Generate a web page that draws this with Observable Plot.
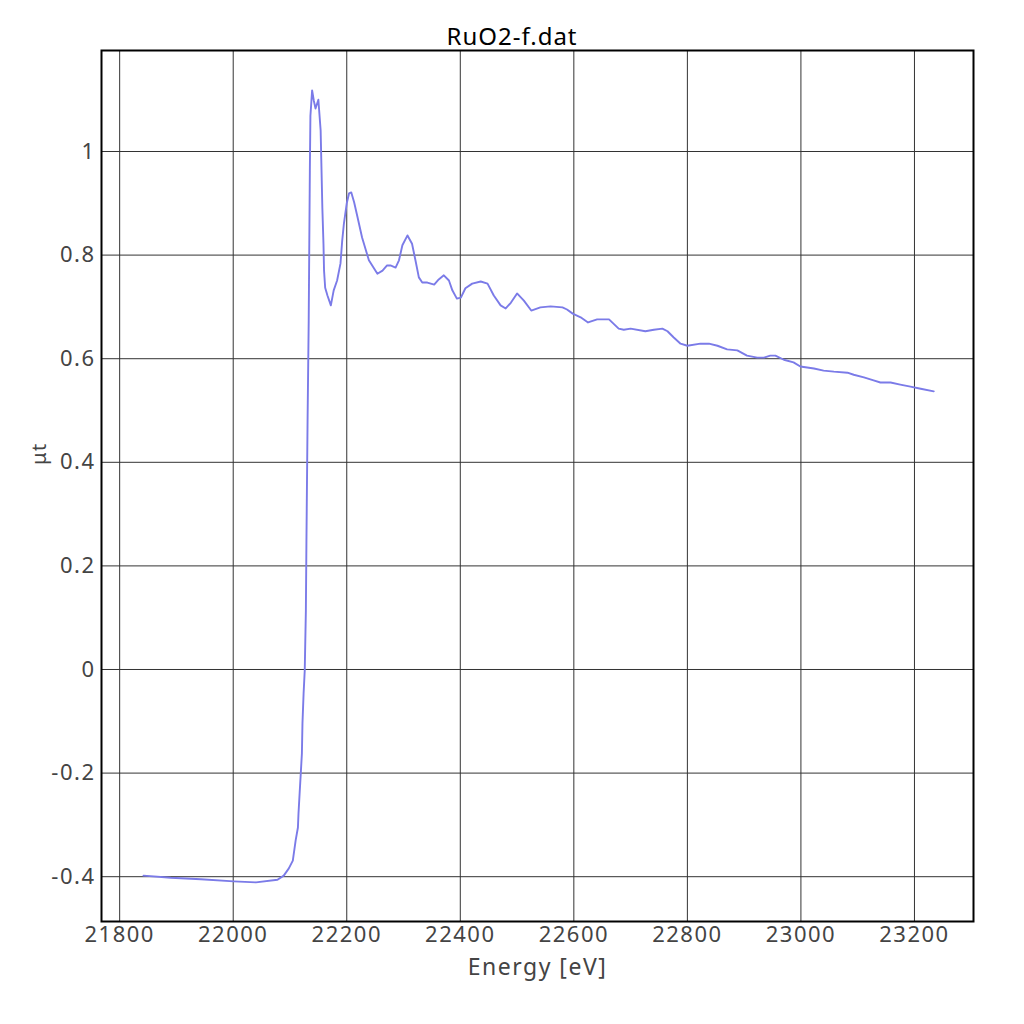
<!DOCTYPE html>
<html>
<head>
<meta charset="utf-8">
<script src="https://cdn.jsdelivr.net/npm/d3@7"></script>
<script src="https://cdn.jsdelivr.net/npm/@observablehq/plot@0.6"></script>
<style>
  body { margin: 0; background: #fff; font-family: "Noto Sans", sans-serif; }
  #title { height: 24px; position: relative; }
  #title span { position: absolute; left: 0; right: 0; top: 24px; line-height: 1; text-align: center; font-size: 24px; letter-spacing: 1px; color: #000; z-index: 1; }
  #chart svg text { letter-spacing: 1.5px; }
</style>
</head>
<body>
<div id="title"><span>RuO2-f.dat</span></div>
<div id="chart"></div>
<script>
// XAS scan: energy [eV] and absorption μt
const energy = [
  21842, 21890, 21943, 22001, 22040, 22078, 22089, 22098, 22105, 22110,
  22114, 22115, 22117, 22119, 22121, 22122, 22124, 22126, 22128, 22129,
  22131, 22133, 22135, 22136, 22139, 22142, 22145, 22150, 22154, 22157,
  22159, 22160, 22162, 22166, 22172, 22177, 22183, 22189, 22192, 22195,
  22200, 22204, 22208, 22213, 22219, 22227, 22239, 22254, 22263, 22271,
  22277, 22286, 22292, 22298, 22307, 22315, 22321, 22327, 22333, 22342,
  22354, 22362, 22371, 22380, 22386, 22394, 22401, 22409, 22421, 22436,
  22448, 22459, 22471, 22480, 22489, 22500, 22512, 22525, 22541, 22559,
  22580, 22588, 22598, 22612, 22625, 22641, 22662, 22679, 22688, 22700,
  22726, 22741, 22756, 22765, 22776, 22788, 22800, 22823, 22838, 22853,
  22870, 22888, 22905, 22923, 22935, 22946, 22955, 22970, 22987, 22999,
  23023, 23040, 23058, 23082, 23093, 23111, 23128, 23140, 23158, 23175,
  23193, 23211, 23234
];
const mut = [
  -0.398, -0.402, -0.405, -0.409, -0.411, -0.406, -0.398, -0.384, -0.369, -0.330,
  -0.305, -0.278, -0.239, -0.201, -0.162, -0.104, -0.046, -0.002, 0.114, 0.249,
  0.481, 0.674, 0.963, 1.069, 1.118, 1.098, 1.083, 1.100, 1.041, 0.892,
  0.822, 0.770, 0.737, 0.722, 0.703, 0.732, 0.751, 0.784, 0.828, 0.861,
  0.900, 0.919, 0.921, 0.902, 0.873, 0.834, 0.790, 0.764, 0.770, 0.780,
  0.780, 0.776, 0.790, 0.819, 0.838, 0.822, 0.790, 0.757, 0.747, 0.747,
  0.743, 0.753, 0.761, 0.751, 0.732, 0.716, 0.718, 0.736, 0.745, 0.749,
  0.745, 0.722, 0.703, 0.697, 0.708, 0.726, 0.712, 0.693, 0.699, 0.701,
  0.699, 0.695, 0.687, 0.680, 0.670, 0.676, 0.676, 0.658, 0.656, 0.658,
  0.653, 0.656, 0.658, 0.653, 0.641, 0.629, 0.625, 0.629, 0.629, 0.625,
  0.618, 0.616, 0.606, 0.602, 0.602, 0.606, 0.606, 0.598, 0.593, 0.585,
  0.581, 0.577, 0.575, 0.573, 0.569, 0.564, 0.558, 0.554, 0.554, 0.550,
  0.546, 0.542, 0.537
];
const xTicks = [21800, 22000, 22200, 22400, 22600, 22800, 23000, 23200];
const yTicks = [-0.4, -0.2, 0, 0.2, 0.4, 0.6, 0.8, 1];

const data = energy.map((e, i) => ({ e, mu: mut[i] }));
const fmtY = (d) => String(Math.round(d * 10) / 10);

const plot = Plot.plot({
  width: 1024,
  height: 1000,
  marginTop: 26,
  marginBottom: 103,
  marginLeft: 101,
  marginRight: 51,
  style: { fontFamily: '"Noto Sans", sans-serif', fontSize: "22px", color: "#444", background: "transparent" },
  x: { domain: [21768, 23304], ticks: xTicks },
  y: { domain: [-0.4865, 1.195], ticks: yTicks },
  marks: [
    Plot.gridX(xTicks, { stroke: "#333", strokeOpacity: 1, strokeWidth: 1 }),
    Plot.gridY(yTicks, { stroke: "#333", strokeOpacity: 1, strokeWidth: 1 }),
    Plot.axisX(xTicks, { tickSize: 0, tickPadding: 5, label: null, tickFormat: (d) => String(d), fontSize: 22 }),
    Plot.axisY(yTicks, { tickSize: 0, tickPadding: 6, label: null, tickFormat: fmtY, fontSize: 22 }),
    Plot.line(data, { x: "e", y: "mu", stroke: "#7b7be8", strokeWidth: 1.9 }),
    Plot.frame({ stroke: "#000", strokeWidth: 2 }),
    Plot.text(["Energy [eV]"], { frameAnchor: "bottom", dy: 53, fontSize: 23, fill: "#444" }),
    Plot.text(["μt"], { frameAnchor: "left", dx: -62, dy: -21, rotate: -90, fontSize: 20, fill: "#444" })
  ]
});
document.getElementById("chart").appendChild(plot);
</script>
</body>
</html>
